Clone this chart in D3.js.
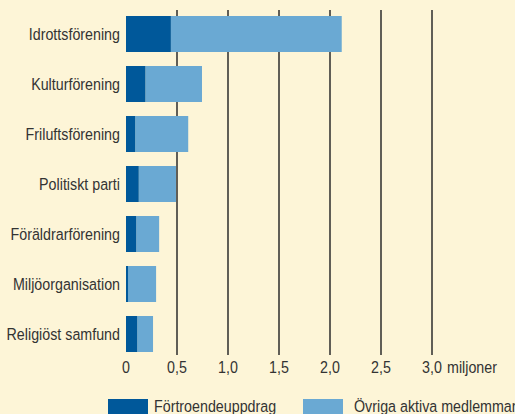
<!DOCTYPE html>
<html>
<head>
<meta charset="utf-8">
<script src="https://cdn.jsdelivr.net/npm/d3@7"></script>
<style>
  body { margin: 0; background: #fdf5d7; overflow: hidden; }
  svg { display: block; }
  text { font-family: "Liberation Sans Narrow", "Liberation Sans", sans-serif; fill: #333333; font-size: 17px; }
</style>
</head>
<body>
<div id="chart"></div>
<script>
var categories = ["Idrottsförening", "Kulturförening", "Friluftsförening", "Politiskt parti",
  "Föräldrarförening", "Miljöorganisation", "Religiöst samfund"];
var fortroende = [0.44, 0.19, 0.09, 0.125, 0.10, 0.02, 0.11];
var ovriga = [1.675, 0.555, 0.52, 0.365, 0.225, 0.275, 0.155];
var tickValues = [0, 0.5, 1.0, 1.5, 2.0, 2.5, 3.0];
var seriesNames = ["Förtroendeuppdrag", "Övriga aktiva medlemmar"];
var colors = ["#00589a", "#6aa9d3"];

var width = 515, height = 414;
var squeeze = 0.84;

var svg = d3.select("#chart").append("svg")
  .attr("width", width).attr("height", height);

var x = d3.scaleLinear().domain([0, 3]).range([126, 432]);
var y = d3.scaleBand().domain(categories).range([9, 359]).paddingInner(0.28).paddingOuter(0.14);

function place(px, py) {
  return "translate(" + px + "," + py + ") scale(" + squeeze + ",1)";
}

// grid lines
svg.selectAll("line.grid")
  .data(tickValues.slice(1))
  .enter()
  .append("line")
  .attr("class", "grid")
  .attr("x1", function(d) { return x(d); })
  .attr("x2", function(d) { return x(d); })
  .attr("y1", 10)
  .attr("y2", 355)
  .attr("stroke", "#2b2b2b")
  .attr("stroke-width", 1.5);

var rows = categories.map(function(c, i) {
  return { name: c, a: fortroende[i], b: ovriga[i] };
});

var groups = svg.selectAll("g.row")
  .data(rows)
  .enter()
  .append("g")
  .attr("class", "row");

groups.append("rect")
  .attr("x", function(d) { return x(d.a); })
  .attr("y", function(d) { return y(d.name); })
  .attr("width", function(d) { return x(d.a + d.b) - x(d.a); })
  .attr("height", y.bandwidth())
  .attr("fill", colors[1]);

groups.append("rect")
  .attr("x", x(0))
  .attr("y", function(d) { return y(d.name); })
  .attr("width", function(d) { return x(d.a) - x(0); })
  .attr("height", y.bandwidth())
  .attr("fill", colors[0]);

groups.append("text")
  .attr("transform", function(d) { return place(120, y(d.name) + y.bandwidth() / 2 + 6); })
  .attr("text-anchor", "end")
  .text(function(d) { return d.name; });

// tick labels
svg.selectAll("text.tick")
  .data(tickValues)
  .enter()
  .append("text")
  .attr("class", "tick")
  .attr("transform", function(d) { return place(x(d), 373); })
  .attr("text-anchor", "middle")
  .text(function(d) { return d === 0 ? "0" : d3.format(".1f")(d).replace(".", ","); });

svg.append("text")
  .attr("transform", place(x(3) + 15, 373))
  .text("miljoner");

// legend
var legendX = [108, 303];
var legendTextX = [154, 354];
seriesNames.forEach(function(name, i) {
  svg.append("rect")
    .attr("x", legendX[i])
    .attr("y", 399)
    .attr("width", 40)
    .attr("height", 16)
    .attr("fill", colors[i]);
  svg.append("text")
    .attr("transform", place(legendTextX[i], 412))
    .text(name);
});
</script>
</body>
</html>
